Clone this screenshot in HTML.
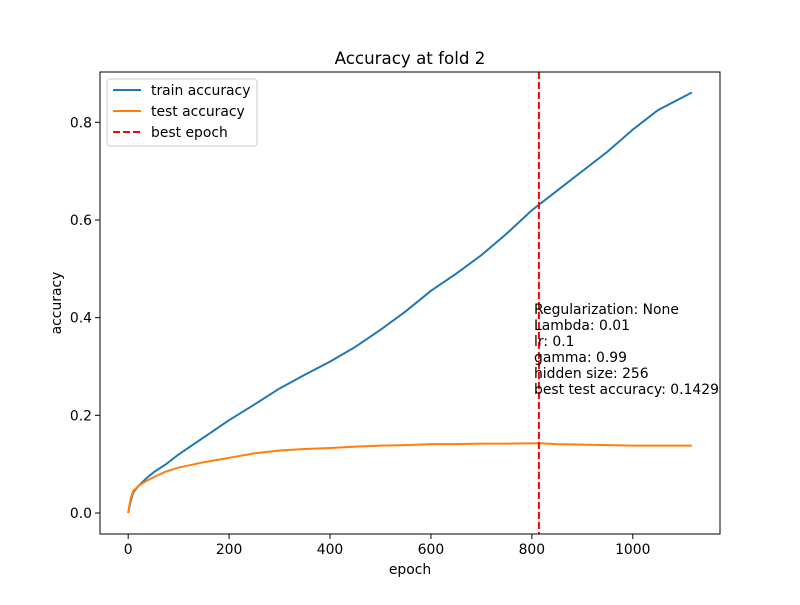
<!DOCTYPE html>
<html><head><meta charset="utf-8"><style>
body{margin:0;background:#fff}
svg text{font-family:"DejaVu Sans","Liberation Sans",sans-serif;fill:#000}
</style></head><body>
<svg width="800" height="600">
<g id="plot"></g>
</svg>
<script>
const epochs=[0,5,10,20,35,50,75,100,150,200,250,300,350,400,450,500,550,600,650,700,750,800,850,900,950,1000,1050,1117];
const trainAcc=[0,0.025,0.042,0.055,0.07,0.083,0.1,0.12,0.155,0.19,0.222,0.255,0.283,0.31,0.34,0.375,0.413,0.455,0.49,0.528,0.572,0.62,0.66,0.7,0.74,0.785,0.825,0.861];
const testEpochs=[0,5,10,20,35,50,75,100,150,200,250,300,350,400,450,500,550,600,650,700,750,815,850,900,950,1000,1050,1117];
const testAcc=[0,0.03,0.045,0.055,0.065,0.073,0.085,0.093,0.104,0.113,0.122,0.128,0.131,0.133,0.136,0.138,0.139,0.141,0.141,0.142,0.142,0.1429,0.141,0.14,0.139,0.138,0.138,0.138];
const bestEpoch=814;
const xTicks=[0,200,400,600,800,1000];
const yTicks=[0,0.2,0.4,0.6,0.8];
const infoLines=["Regularization: None","Lambda: 0.01","lr: 0.1","gamma: 0.99","hidden size: 256","best test accuracy: 0.1429"];
const L=100,R=720,T=72,B=534,x0=-55.85,x1=1172.85,y0=-0.043,y1=0.903;
const sx=v=>L+(v-x0)/(x1-x0)*(R-L), sy=v=>B-(v-y0)/(y1-y0)*(B-T);
const NS="http://www.w3.org/2000/svg", g=document.getElementById('plot');
function mk(t,a,txt){const e=document.createElementNS(NS,t);for(const k in a)e.setAttribute(k,a[k]);if(txt!==undefined)e.textContent=txt;g.appendChild(e);return e;}
function line(xs,ys,c,name){const e=mk('polyline',{points:xs.map((x,i)=>sx(x)+','+sy(ys[i])).join(' '),fill:'none',stroke:c,'stroke-width':2});

}
line(epochs,trainAcc,'#1f77b4','train-accuracy-line');
line(testEpochs,testAcc,'#ff7f0e','test-accuracy-line');
const bl=mk('line',{x1:sx(bestEpoch),x2:sx(bestEpoch),y1:T,y2:B,stroke:'red','stroke-width':2,'stroke-dasharray':'7,3'});


const fr=mk('rect',{x:L,y:T,width:R-L,height:B-T,fill:'none',stroke:'#000','stroke-width':1});


xTicks.forEach(v=>{mk('line',{x1:sx(v),x2:sx(v),y1:B,y2:B+5,stroke:'#000','stroke-width':1});
const t=mk('text',{x:sx(v),y:B+20,'text-anchor':'middle','font-size':'13.9'},String(v));

});
yTicks.forEach(v=>{mk('line',{x1:L-5,x2:L,y1:sy(v),y2:sy(v),stroke:'#000','stroke-width':1});
const t=mk('text',{x:L-8,y:sy(v)+5,'text-anchor':'end','font-size':'13.9'},v.toFixed(1));

});
let e=mk('text',{x:410,y:574,'text-anchor':'middle','font-size':'13.9'},'epoch');


e=mk('text',{x:61,y:303,'text-anchor':'middle','font-size':'13.9',transform:'rotate(-90 61 303)'},'accuracy');


e=mk('text',{x:410,y:64,'text-anchor':'middle','font-size':'16.7'},'Accuracy at fold 2');


infoLines.forEach((s,i)=>{const t=mk('text',{x:534,y:314+i*16,'font-size':'13.9'},s);

});
e=mk('rect',{x:107,y:79,width:150,height:67,rx:3,fill:'#fff','fill-opacity':0.8,stroke:'#ccc'});


[['train accuracy','#1f77b4',''],['test accuracy','#ff7f0e',''],['best epoch','red','7,3']].forEach((d,i)=>{const y=90+i*21;
mk('line',{x1:113,x2:141,y1:y,y2:y,stroke:d[1],'stroke-width':2,'stroke-dasharray':d[2]});
const t=mk('text',{x:151,y:y+5,'font-size':'13.9'},d[0]);

});
</script>
</body></html>
